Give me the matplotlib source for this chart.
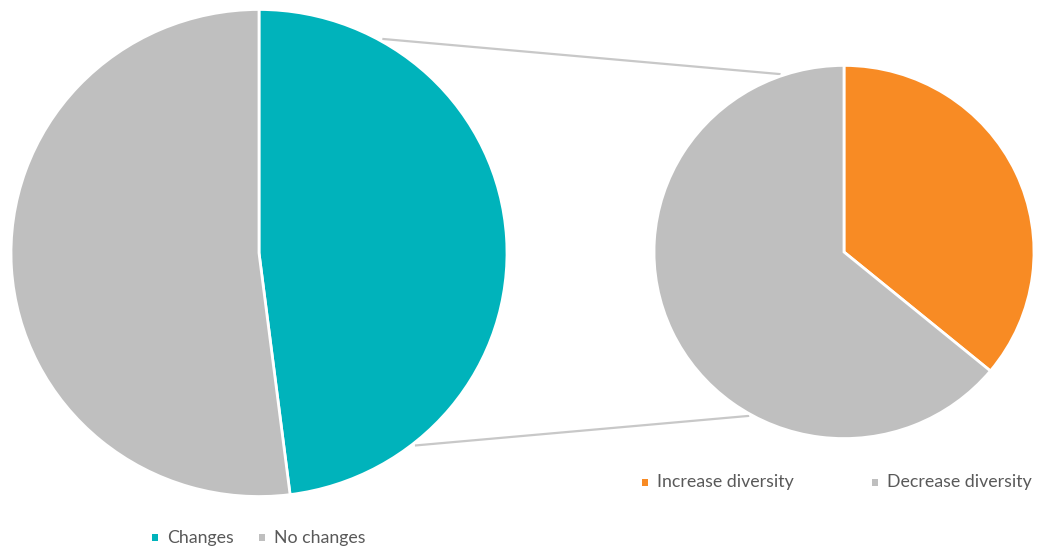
import matplotlib
matplotlib.use('Agg')
import matplotlib.pyplot as plt
import numpy as np
from matplotlib.patches import Rectangle

# ---- data ----
main_labels = ['Changes', 'No changes']
main_values = [48, 52]
main_colors = ['#00B3BB', '#BFBFBF']

sub_labels = ['Increase diversity', 'Decrease diversity']
sub_values = [36, 64]
sub_colors = ['#F88B24', '#BFBFBF']

# ---- layout (pixel space) ----
W, H = 1038, 550
YS = 0.982  # slight vertical squash seen in the reference


def Y(ypx):
    return (H - ypx) / YS


fig = plt.figure(figsize=(W / 100, H / 100), dpi=100)
ax = fig.add_axes([0, 0, 1, 1])

left_c, left_r = (259, Y(253)), 248
right_c, right_r = (844, Y(252)), 190

wp = dict(edgecolor='white', linewidth=2)
ax.pie(main_values, colors=main_colors, startangle=90, counterclock=False,
       center=left_c, radius=left_r, wedgeprops=wp, frame=True)
ax.pie(sub_values, colors=sub_colors, startangle=90, counterclock=False,
       center=right_c, radius=right_r, wedgeprops=wp, frame=True)


def pt(c, r, ang, f=1.01):
    a = np.deg2rad(ang)
    return c[0] + f * r * np.cos(a), c[1] + f * r * np.sin(a)


# connector lines
for a1, a2 in [(60.5, 109.3), (-51.5, -119.6)]:
    p1 = pt(left_c, left_r, a1)
    p2 = pt(right_c, right_r, a2)
    ax.plot([p1[0], p2[0]], [p1[1], p2[1]], color='#C8C8C8', lw=1.6,
            solid_capstyle='butt', zorder=0)

ax.set_xlim(0, W)
ax.set_ylim(0, H / YS)
ax.set_aspect('auto')
ax.axis('off')

# ---- legends ----
font = dict(family='Lato', fontsize=12.8, color='#595959', va='center', ha='left')


def legend_item(x, ypx, color, label):
    s = 6.5
    ax.add_patch(Rectangle((x - s / 2, Y(ypx) - s / 2 / YS), s, s / YS,
                           facecolor=color, edgecolor='none'))
    ax.text(x + 12, Y(ypx), label, **font)


legend_item(155, 537.5, main_colors[0], main_labels[0])
legend_item(262, 537.5, main_colors[1], main_labels[1])
legend_item(645, 482.5, sub_colors[0], sub_labels[0])
legend_item(875, 482.5, sub_colors[1], sub_labels[1])

fig.savefig('out.png', dpi=100)
